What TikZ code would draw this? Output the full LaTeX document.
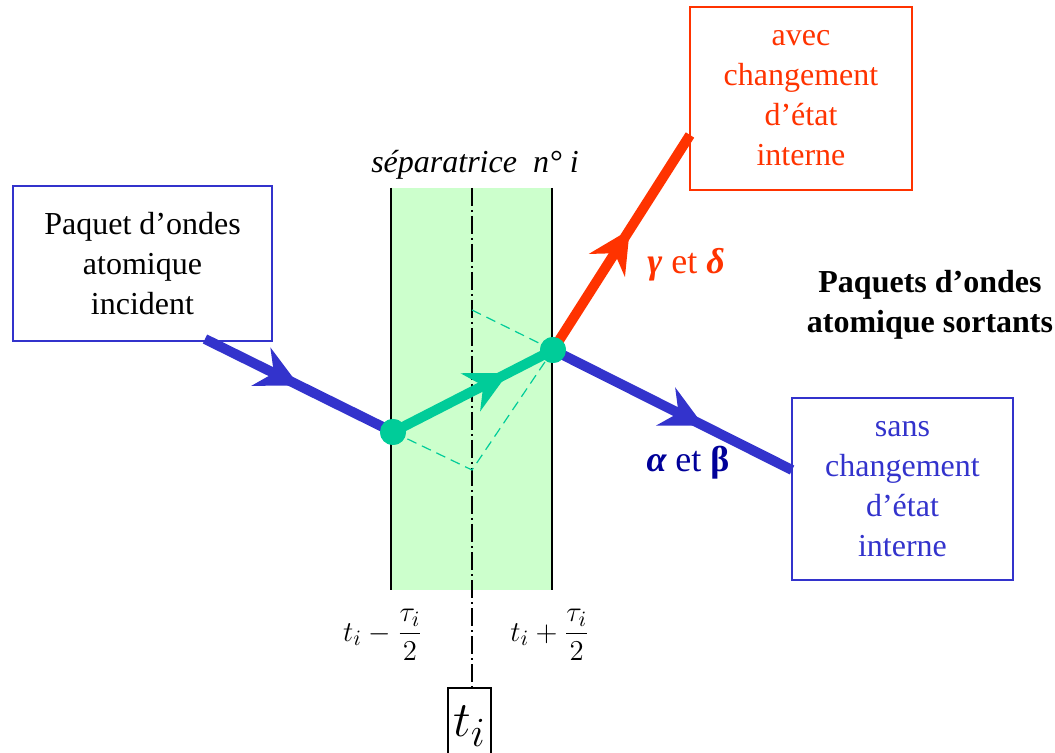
\documentclass[tikz,border=0pt]{standalone}
\usepackage{amsmath}
\usepackage{fontspec}
\setmainfont{Liberation Serif}
\usetikzlibrary{arrows.meta,decorations.markings}
\definecolor{wavblue}{HTML}{3333CC}
\definecolor{darkblue}{HTML}{000099}
\definecolor{wavred}{HTML}{FF3300}
\definecolor{wavgreen}{HTML}{00CC99}
\definecolor{bandgreen}{HTML}{CCFFCC}

\begin{document}
\begin{tikzpicture}[x=0.5pt, y=-0.5pt,
    box/.style={draw, line width=1pt, align=center, inner sep=0pt, font=\fontsize{16}{20}\selectfont},
    beam/.style={line width=5pt, postaction={decorate, decoration={markings,
        mark=at position #1 with {\arrow{Stealth[length=21pt, width=21pt, inset=7pt]}}}}},
    dot/.style={circle, fill=wavgreen, inner sep=0pt, minimum size=13pt},
    guide/.style={wavgreen, line width=0.6pt, dash pattern=on 5pt off 3pt},
    lbl/.style={font=\fontsize{16}{20}\selectfont},
  ]
    \path[use as bounding box] (0,0) rectangle (1055,753);

    % separatrix band
    \fill[bandgreen] (391,188) rectangle (552,590);
    \coordinate (bandTL) at (391,188);  \coordinate (bandBL) at (391,590);
    \coordinate (bandTR) at (552,188);  \coordinate (bandBR) at (552,590);
    \draw[line width=1pt] (bandTL) -- (bandBL);
    \draw[line width=1pt] (bandTR) -- (bandBR);
    \node[lbl, font=\fontsize{16}{20}\selectfont\itshape] (sep) at (475,165) {séparatrice\ \ n° i};

    % boxes
    \node[box, draw=wavblue, minimum width=129.5pt, minimum height=77.5pt] (incident) at (142.5,263.5) {Paquet d’ondes\\atomique\\incident};
    \node[box, draw=wavred, text=wavred, minimum width=111pt, minimum height=91.5pt] (avec) at (801,98.5) {avec\\changement\\d’état\\interne};
    \node[box, draw=wavblue, text=wavblue, minimum width=110.5pt, minimum height=91pt] (sans) at (902.5,489) {sans\\changement\\d’état\\interne};
    \node[draw, line width=1pt, minimum width=21.5pt, minimum height=38pt, inner sep=0pt, font=\fontsize{30}{34}\selectfont] (ti) at (469.5,726) {$t_{i}$};

    % time axis
    \coordinate (axtop) at (472,188);
    \draw[line width=1pt, dash pattern=on 9pt off 2pt on 1pt off 2pt] (axtop) -- (ti.north -| axtop);

    % beams
    \coordinate (in) at (205,339);
    \coordinate (outR) at (690,135);
    \coordinate (outB) at (792,470);
    \node[dot] (A) at (393,432) {};
    \node[dot] (B) at (553,350) {};
    \coordinate (top) at (472,310);
    \coordinate (bot) at (472,470);
    \draw[beam=0.5, wavblue] (in) -- (A.center);
    \draw[beam=0.56, wavred] (B.center) -- (outR);
    \draw[beam=0.63, wavblue] (B.center) -- (outB);
    \draw[guide] (top) -- (B.center);
    \draw[guide] (A.center) -- (bot) -- (B.center);
    \draw[beam=0.72, wavgreen, line width=5pt] (A.center) -- (B.center);
    \node[dot] at (A) {};
    \node[dot] at (B) {};

    % labels
    \node[lbl, font=\fontsize{18}{20}\selectfont, text=wavred] (gd) at (686,265) {{\bfseries\itshape γ} et {\bfseries\itshape δ}};
    \node[lbl, font=\fontsize{18}{20}\selectfont, text=darkblue] (ab) at (688,463) {{\bfseries\itshape α} et {\bfseries β}};
    \node[lbl, font=\fontsize{16}{20}\selectfont\bfseries, align=center] (sortants) at (930,305) {Paquets d’ondes\\atomique sortants};
    \node[font=\fontsize{15}{16}\selectfont] (tmin) at (383,635) {$t_{i}-\dfrac{\tau_{i}}{2}$};
    \node[font=\fontsize{15}{16}\selectfont] (tplus) at (550,635) {$t_{i}+\dfrac{\tau_{i}}{2}$};
  \end{tikzpicture}
\end{document}
